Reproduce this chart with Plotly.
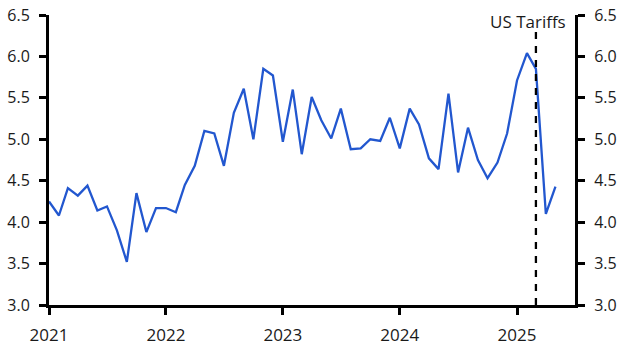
import plotly.graph_objects as go
import pandas as pd

dates = pd.date_range("2021-01-01", "2025-05-01", freq="MS")
values = [
    4.25, 4.08, 4.41, 4.32, 4.44, 4.14, 4.19, 3.90, 3.52, 4.35, 3.88, 4.17,
    4.17, 4.12, 4.45, 4.68, 5.10, 5.07, 4.68, 5.32, 5.61, 5.00, 5.85, 5.77,
    4.97, 5.60, 4.82, 5.51, 5.23, 5.01, 5.37, 4.88, 4.89, 5.00, 4.98, 5.26,
    4.89, 5.37, 5.18, 4.77, 4.64, 5.55, 4.60, 5.14, 4.75, 4.53, 4.72, 5.07,
    5.71, 6.04, 5.85, 4.10, 4.43,
]
event_date = "2025-03-01"
event_label = "US Tariffs"
x_ticks = ["2021-01-01", "2022-01-01", "2023-01-01", "2024-01-01", "2025-01-01"]
x_tick_text = ["2021", "2022", "2023", "2024", "2025"]
y_ticks = [3.0, 3.5, 4.0, 4.5, 5.0, 5.5, 6.0, 6.5]

FONT = "Open Sans"
BLUE = "#2257cf"

fig = go.Figure()
fig.add_trace(go.Scatter(x=dates, y=values, mode="lines",
                         line=dict(color=BLUE, width=2.3), showlegend=False))
fig.add_trace(go.Scatter(x=dates, y=values, mode="lines", yaxis="y2",
                         line=dict(color="rgba(0,0,0,0)", width=0),
                         hoverinfo="skip", showlegend=False))

fig.add_shape(type="line", xref="x", yref="paper",
              x0=event_date, x1=event_date, y0=0, y1=0.948,
              line=dict(color="black", width=2.3, dash="7px,7px"))
fig.add_annotation(text=event_label, xref="paper", yref="paper",
                   x=0.987, y=0.977, xanchor="right", yanchor="middle",
                   showarrow=False, font=dict(family=FONT, size=17, color="#1a1a1a"))

axis_common = dict(showgrid=False, zeroline=False, showline=True,
                   linecolor="black", linewidth=3, ticks="outside",
                   ticklen=7, tickwidth=2.5, tickcolor="black", automargin=False)

fig.update_layout(
    width=631, height=357,
    margin=dict(l=49, r=56, t=15, b=52),
    paper_bgcolor="white", plot_bgcolor="white",
    font=dict(family=FONT, color="#1a1a1a"),
    xaxis=dict(range=["2021-01-01", "2025-07-01"], tickvals=x_ticks,
               ticktext=x_tick_text, tickfont=dict(size=17),
               ticklabelstandoff=6, **axis_common),
    yaxis=dict(range=[3, 6.5], tickvals=y_ticks, tickformat=".1f",
               tickfont=dict(size=16), ticklabelstandoff=6, **axis_common),
    yaxis2=dict(range=[3, 6.5], tickvals=y_ticks, tickformat=".1f",
                overlaying="y", side="right",
                tickfont=dict(size=16), ticklabelstandoff=6, **axis_common),
)

fig.write_html("out.html")
